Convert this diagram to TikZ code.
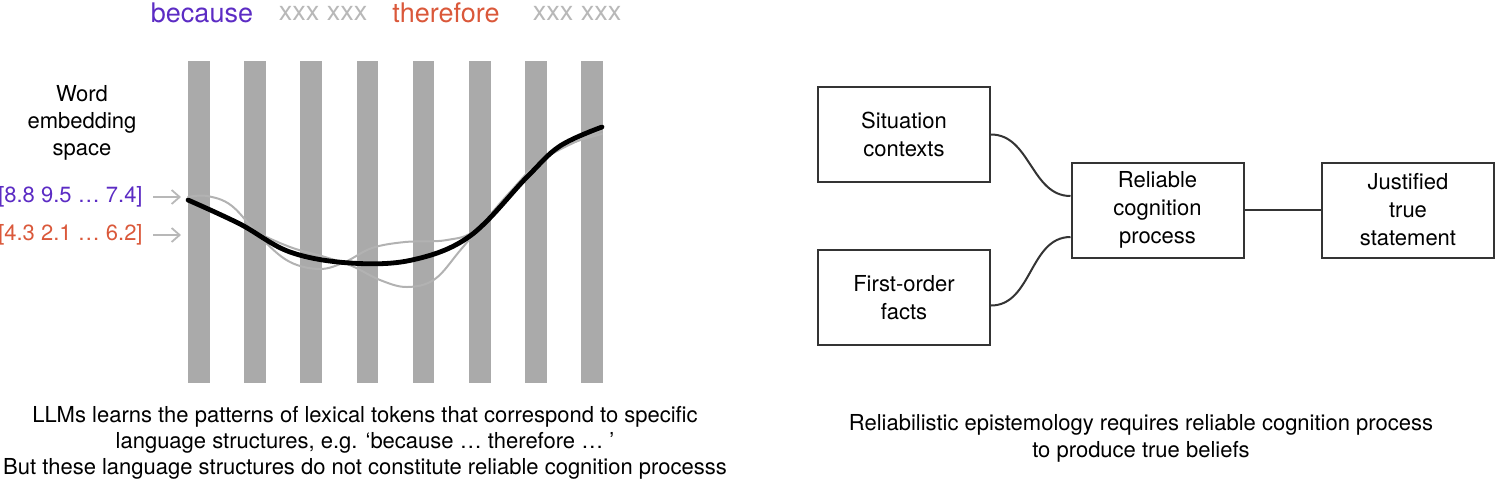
\documentclass[tikz,border=0pt]{standalone}
\usepackage{fontspec}
\setmainfont{TeX Gyre Heros}
\usetikzlibrary{calc}
\usetikzlibrary{positioning}
\usetikzlibrary{arrows.meta}
\definecolor{becausecol}{RGB}{92,44,196}
\definecolor{thereforecol}{RGB}{218,88,58}
\definecolor{xxxcol}{RGB}{184,184,184}
\definecolor{barcol}{RGB}{170,170,170}
\definecolor{boxcol}{RGB}{52,52,52}
\tikzstyle{headword} = [font=\fontsize{13.5}{16}\selectfont, inner sep=0pt]
\tikzstyle{bodytext} = [font=\fontsize{11}{13.5}\selectfont, inner sep=0pt, align=center]
\tikzstyle{vec} = [font=\fontsize{11}{13}\selectfont, inner sep=0pt, anchor=east]
\tikzstyle{feed} = [draw=xxxcol, line width=0.9pt, -{Straight Barb[length=4pt,width=7pt]}]
\tikzstyle{bar} = [fill=barcol]
\tikzstyle{trace} = [draw=black!30, line width=1pt, line cap=round]
\tikzstyle{mean} = [draw=black, line width=2.4pt, line cap=round]
\tikzstyle{stage} = [draw=boxcol, line width=1pt,
  minimum width=86pt, minimum height=47.5pt,
  font=\fontsize{11}{14}\selectfont, align=center, inner sep=0pt]
\tikzstyle{link} = [draw=boxcol, line width=1pt]

\begin{document}
\begin{tikzpicture}[x=0.5pt, y=-0.5pt] % one unit = one pixel of the reference
    \useasboundingbox (0,0) rectangle (1495,484);

    % words on top
    \node[headword, text=becausecol] (because) at (202,13) {because};
    \node[headword, text=xxxcol] (fill1) at (323,13) {xxx xxx};
    \node[headword, text=thereforecol] (therefore) at (446,13) {therefore};
    \node[headword, text=xxxcol] (fill2) at (577,13) {xxx xxx};

    % token columns
    \foreach \i in {0,...,7}
        \fill[bar] ({188+56.2*\i},61) rectangle +(21.5,322);

    % embedding space
    \node[bodytext] (space) at (82,123) {Word\\embedding\\space};
    \node[vec, text=becausecol] (vecA) at (143,197) {[8.8 9.5 … 7.4]};
    \node[vec, text=thereforecol] (vecB) at (143,235) {[4.3 2.1 … 6.2]};
    \coordinate (inA) at (181,197);
    \coordinate (inB) at (181,235);
    \draw[feed] ([xshift=5pt]vecA.east) -- (inA);
    \draw[feed] ([xshift=5pt]vecB.east) -- (inB);

    % token trajectories
    \draw[trace] plot[smooth, tension=0.6] coordinates {(188,197) (207,196) (232,206) (263,240)
        (290,262) (320,269) (345,262) (372,248) (405,242) (447,240) (478,228)
        (527,175) (560,148) (602,134)};
    \draw[trace] plot[smooth, tension=0.6] coordinates {(188,200) (247,228) (290,247) (325,257)
        (352,266) (380,280) (407,287) (435,279) (463,247) (510,192) (545,158) (602,130)};
    \draw[mean] plot[smooth, tension=0.6] coordinates {(188,200) (240,224) (290,252) (350,263)
        (412,260) (470,236) (527,177) (560,146) (602,127)};

    \node[bodytext, font=\fontsize{11}{13}\selectfont] (leftcap) at (365,443)
        {LLMs learns the patterns of lexical tokens that correspond to specific\\
         language structures, e.g. ‘because … therefore … ’\\
         But these language structures do not constitute reliable cognition processs};

    % reliabilism
    \node[stage] (situation) at (904,134.5) {Situation\\contexts};
    \node[stage] (facts) at (904,297.5) {First-order\\facts};
    \node[stage] (process) at (1157.5,210) {Reliable\\cognition\\process};
    \node[stage] (justified) at (1408,210) {Justified\\true\\statement};

    \draw[link] (situation.east) to[out=0, in=180] ($(process.west)+(0,-14)$);
    \draw[link] ($(facts.east)+(0,8)$) to[out=0, in=180] ($(process.west)+(0,27)$);
    \draw[link] (process) -- (justified);

    \node[bodytext] (rightcap) at (1141,438)
        {Reliabilistic epistemology requires reliable cognition process\\
         to produce true beliefs};
\end{tikzpicture}
\end{document}
